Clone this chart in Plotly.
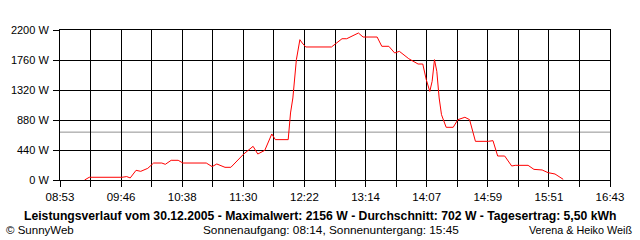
import plotly.graph_objects as go

# --- data ---
times = ["09:14", "09:18", "09:46", "09:50", "09:53", "09:58", "10:02", "10:08", "10:13", "10:20",
         "10:23", "10:28", "10:34", "10:38", "10:58", "11:03", "11:07", "11:14", "11:19", "11:30",
         "11:38", "11:42", "11:48", "11:54", "11:57", "12:08", "12:10", "12:12", "12:15", "12:18",
         "12:20", "12:23", "12:45", "12:49", "12:54", "12:58", "13:08", "13:12", "13:24", "13:28",
         "13:34", "13:39", "13:43", "13:51", "13:59", "14:03", "14:06", "14:09", "14:11", "14:13",
         "14:15", "14:17", "14:19", "14:23", "14:29", "14:33", "14:39", "14:43", "14:48", "14:59",
         "15:03", "15:07", "15:13", "15:19", "15:22", "15:33", "15:38", "15:45", "15:50", "15:56",
         "16:00", "16:03"]
power = [0, 40, 40, 50, 30, 142, 127, 171, 249, 249,
         230, 289, 289, 249, 249, 196, 235, 186, 186, 381,
         494, 381, 435, 675, 592, 592, 983, 1203, 1765, 2058,
         2009, 1951, 1951, 2009, 2072, 2072, 2156, 2097, 2097, 1961,
         1961, 1863, 1887, 1779, 1701, 1701, 1471, 1300, 1447, 1765,
         1594, 1203, 958, 773, 773, 885, 920, 885, 567, 567,
         577, 352, 352, 205, 215, 215, 156, 147, 108, 88,
         49, 10]
average_w = 702
y_ticks = [0, 440, 880, 1320, 1760, 2200]
x_tick_labels = ["08:53", "09:46", "10:38", "11:30", "12:22", "13:14", "14:07", "14:59", "15:51", "16:43"]

title_text = ("Leistungsverlauf vom 30.12.2005 - Maximalwert: 2156 W - Durchschnitt: 702 W"
              " - Tagesertrag: 5,50 kWh")
left_note = "© SunnyWeb"
mid_note = "Sonnenaufgang: 08:14, Sonnenuntergang: 15:45"
right_note = "Verena & Heiko Weiß"


def to_min(t):
    h, m = t.split(":")
    return int(h) * 60 + int(m)


x_vals = [to_min(t) for t in times]
x0 = to_min(x_tick_labels[0])
x1 = to_min(x_tick_labels[-1])
n_div = 2 * (len(x_tick_labels) - 1)
step = (x1 - x0) / n_div
tickvals = [x0 + i * step for i in range(n_div + 1)]
ticktext = [x_tick_labels[i // 2] if i % 2 == 0 else "" for i in range(n_div + 1)]

FONT = "Liberation Sans"

fig = go.Figure()
fig.add_trace(go.Scatter(x=x_vals, y=power, mode="lines",
                         line=dict(color="#ff0000", width=1), hoverinfo="skip"))

fig.add_shape(type="line", xref="paper", x0=0, x1=1, yref="y", y0=average_w, y1=average_w,
              line=dict(color="#909090", width=1), layer="below")

fig.update_layout(
    width=640, height=240,
    margin=dict(l=60, r=30, t=30, b=60),
    paper_bgcolor="white", plot_bgcolor="white",
    showlegend=False,
    font=dict(family=FONT, size=11, color="black"),
    xaxis=dict(range=[x0, x1], tickmode="array", tickvals=tickvals, ticktext=ticktext,
               showgrid=True, gridcolor="black", gridwidth=1,
               showline=True, linecolor="black", linewidth=1, mirror=True,
               ticks="outside", ticklen=6, tickcolor="black", tickwidth=1,
               tickfont=dict(family=FONT, size=11.5, color="black"),
               zeroline=False, fixedrange=True),
    yaxis=dict(range=[0, 2200], tickmode="array", tickvals=y_ticks,
               ticktext=[f"{v} W" for v in y_ticks],
               showgrid=True, gridcolor="black", gridwidth=1,
               showline=True, linecolor="black", linewidth=1, mirror=True,
               ticks="outside", ticklen=6, tickcolor="black", tickwidth=1,
               ticklabelstandoff=2,
               tickfont=dict(family=FONT, size=11, color="black"),
               zeroline=False, fixedrange=True),
)


def px_x(px):
    return (px - 60) / 550.0


def px_y(py):
    return (180 - py) / 150.0


fig.add_annotation(text=f"<b>{title_text}</b>", xref="paper", yref="paper",
                   x=px_x(320), y=px_y(215.5), xanchor="center", yanchor="middle",
                   borderpad=0, showarrow=False,
                   font=dict(family=FONT, size=12.2, color="black"))
fig.add_annotation(text=left_note, xref="paper", yref="paper",
                   x=px_x(5), y=px_y(229.5), xanchor="left", yanchor="middle",
                   borderpad=0, showarrow=False,
                   font=dict(family=FONT, size=11.5, color="black"))
fig.add_annotation(text=mid_note, xref="paper", yref="paper",
                   x=px_x(202), y=px_y(229.5), xanchor="left", yanchor="middle",
                   borderpad=0, showarrow=False,
                   font=dict(family=FONT, size=11.8, color="black"))
fig.add_annotation(text=right_note, xref="paper", yref="paper",
                   x=px_x(633), y=px_y(229.5), xanchor="right", yanchor="middle",
                   borderpad=0, showarrow=False,
                   font=dict(family=FONT, size=10.8, color="black"))

fig.write_html("out.html", config={"displayModeBar": False})
